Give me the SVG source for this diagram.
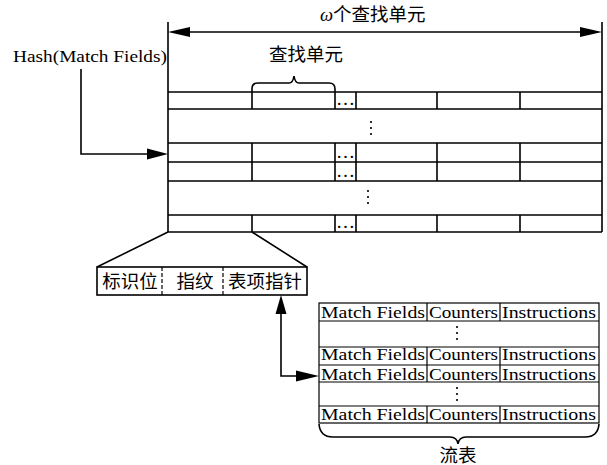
<svg xmlns="http://www.w3.org/2000/svg" width="607" height="465" viewBox="0 0 607 465">
<style>
.ln{stroke:#000;stroke-width:1.6;fill:none}
.tl{stroke:#000;stroke-width:1.2;fill:none}
.ah{fill:#000;stroke:none}
.en{font-family:"Liberation Serif","Times New Roman",serif;font-size:17px;fill:#000}
.cn{font-family:"Liberation Serif","Noto Sans CJK SC",serif;font-size:18.5px;fill:#000}
.dot{font-family:"Liberation Serif","DejaVu Serif",serif;font-size:19px;fill:#000}
.vd{fill:#000}
</style>
<defs>
<g id="vdots"><circle cx="0" cy="0" r="1.1"/><circle cx="0" cy="6" r="1.1"/><circle cx="0" cy="12" r="1.1"/></g>
</defs>
<rect width="607" height="465" fill="#fff"/>
<g id="lookup-table">
<path class="ln" d="M168,22V232M602,22V232"/>
<path class="ln" d="M168,92H602M168,109H602M168,143H602M168,162H602M168,181H602M168,215H602M168,232H602"/>
<path class="ln" d="M335,92V109M356,92V109M437,92V109M520,92V109"/>
<path class="ln" d="M252,143V181M335,143V181M356,143V181M437,143V181M520,143V181"/>
<path class="ln" d="M252,215V232M335,215V232M356,215V232M437,215V232M520,215V232"/>
<path class="ln" d="M252,109V89Q252,83 258,83H289Q293,83 294,76Q295,83 299,83H329Q335,83 335,89V92"/>
<text class="dot" x="336" y="105">…</text>
<text class="dot" x="336" y="158">…</text>
<text class="dot" x="336" y="177">…</text>
<text class="dot" x="336" y="228">…</text>
<use href="#vdots" x="371" y="122" class="vd"/>
<use href="#vdots" x="368" y="191" class="vd"/>
<text class="cn" x="306" y="61" text-anchor="middle">查找单元</text>
<text class="cn" x="320" y="21"><tspan font-style="italic" font-family="Liberation Serif,serif">ω</tspan>个查找单元</text>
</g>
<g id="hash-label">
<text class="en" x="13" y="62" font-size="19" textLength="154" lengthAdjust="spacingAndGlyphs">Hash(Match Fields)</text>
</g>
<g id="entry-format">
<rect class="ln" x="97" y="267" width="210" height="28"/>
<path class="tl" d="M162,267V295M223,267V295" stroke-dasharray="4,2"/>
<text class="cn" x="130" y="288" text-anchor="middle">标识位</text>
<text class="cn" x="195" y="288" text-anchor="middle">指纹</text>
<text class="cn" x="265" y="288" text-anchor="middle">表项指针</text>
</g>
<g id="flow-table">
<rect class="tl" x="319" y="303" width="280" height="120"/>
<path class="tl" d="M319,321H599M319,347H599M319,365H599M319,382H599M319,406H599"/>
<path class="tl" d="M427,303V321M500,303V321M427,347V382M500,347V382M427,406V423M500,406V423"/>
<g class="en">
<text x="321" y="318" textLength="104" lengthAdjust="spacingAndGlyphs">Match Fields</text>
<text x="429" y="318" textLength="69" lengthAdjust="spacingAndGlyphs">Counters</text>
<text x="502" y="318" textLength="94" lengthAdjust="spacingAndGlyphs">Instructions</text>
<text x="321" y="360" textLength="104" lengthAdjust="spacingAndGlyphs">Match Fields</text>
<text x="429" y="360" textLength="69" lengthAdjust="spacingAndGlyphs">Counters</text>
<text x="502" y="360" textLength="94" lengthAdjust="spacingAndGlyphs">Instructions</text>
<text x="321" y="380" textLength="104" lengthAdjust="spacingAndGlyphs">Match Fields</text>
<text x="429" y="380" textLength="69" lengthAdjust="spacingAndGlyphs">Counters</text>
<text x="502" y="380" textLength="94" lengthAdjust="spacingAndGlyphs">Instructions</text>
<text x="321" y="420" textLength="104" lengthAdjust="spacingAndGlyphs">Match Fields</text>
<text x="429" y="420" textLength="69" lengthAdjust="spacingAndGlyphs">Counters</text>
<text x="502" y="420" textLength="94" lengthAdjust="spacingAndGlyphs">Instructions</text>
</g>
<use href="#vdots" x="457" y="327" class="vd"/>
<use href="#vdots" x="457" y="388" class="vd"/>
<path class="ln" d="M319,424Q320,437 333,437H450Q457,437 458,444Q459,437 466,437H585Q598,437 599,424"/>
<text class="cn" x="458" y="462" text-anchor="middle">流表</text>
</g>
<g id="connectors">
<path class="ln" d="M189,32H582"/>
<path class="ah" d="M168,32L190,27V37Z"/>
<path class="ah" d="M602,32L580,27V37Z"/>
<path class="ln" d="M81,69V154H150"/>
<path class="ah" d="M168,154L147,148.5V159.5Z"/>
<path class="ln" d="M168,232L97,267M252,232L307,267"/>
<path class="ln" d="M281,313V376H298"/>
<path class="ah" d="M281,295L275.5,314H286.5Z"/>
<path class="ah" d="M319,376L296,370.5V381.5Z"/>
</g>
</svg>
